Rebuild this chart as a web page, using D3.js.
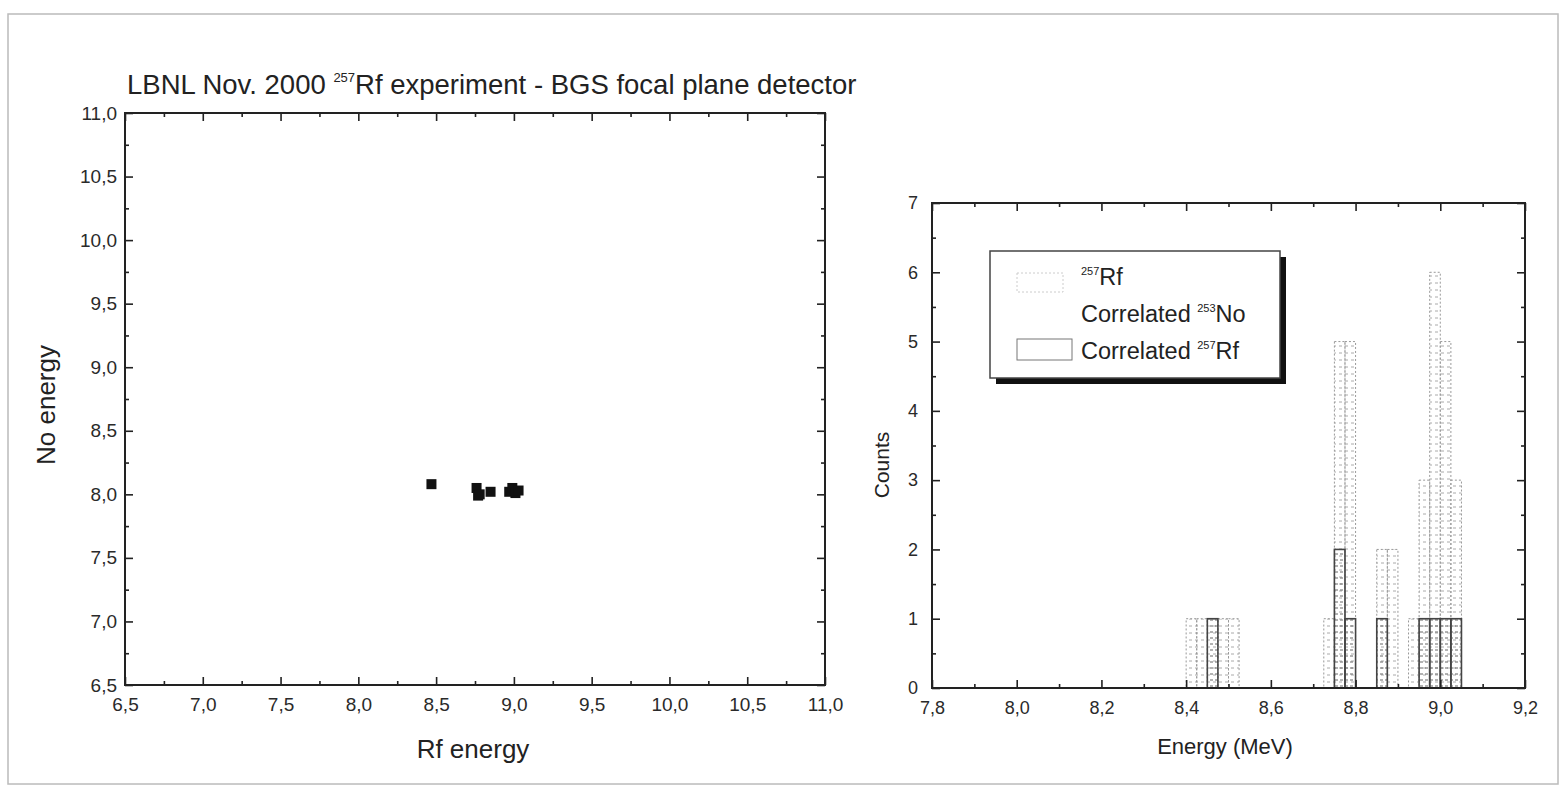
<!DOCTYPE html>
<html>
<head>
<meta charset="utf-8">
<script src="https://cdn.jsdelivr.net/npm/d3@7"></script>
<style>
  body { margin: 0; background: #fff; }
  svg { display: block; font-family: "Liberation Sans", Arial, sans-serif; }
</style>
</head>
<body>
<svg id="svg"></svg>
<script>
// scatter: Rf alpha energy vs correlated No alpha energy
const rfEnergy = [8.47, 8.76, 8.77, 8.78, 8.85, 8.97, 8.99, 9.01, 9.03];
const noEnergy = [8.08, 8.05, 7.99, 8.00, 8.02, 8.02, 8.05, 8.01, 8.03];

// histograms (left bin edge, counts), bin width 0.025 MeV
const binWidth = 0.025;
const rfBins = [8.400, 8.425, 8.450, 8.475, 8.500, 8.725, 8.750, 8.775, 8.850, 8.875, 8.925, 8.950, 8.975, 9.000, 9.025];
const rfCounts = [1, 1, 1, 1, 1, 1, 5, 5, 2, 2, 1, 3, 6, 5, 3];
const corrBins = [8.450, 8.750, 8.775, 8.850, 8.950, 8.975, 9.000, 9.025];
const corrCounts = [1, 2, 1, 1, 1, 1, 1, 1];

const scatterTicks = d3.range(6.5, 11.01, 0.5);
const scatterMinor = d3.range(6.75, 11, 0.5);
const histXTicks = [7.8, 8.0, 8.2, 8.4, 8.6, 8.8, 9.0, 9.2];
const histXMinor = [7.9, 8.1, 8.3, 8.5, 8.7, 8.9, 9.1];
const countTicks = [0, 1, 2, 3, 4, 5, 6, 7];
const countMinor = [0.5, 1.5, 2.5, 3.5, 4.5, 5.5, 6.5];

const legendLabels = [["257", "Rf", ""], ["Correlated ", "253", "No"], ["Correlated ", "257", "Rf"]];

const width = 1565, height = 789;
const ink = "#222";
const comma = d => d3.format(".1f")(d).replace(".", ",");

const svg = d3.select("#svg").attr("width", width).attr("height", height);

// outer frame of the scan
svg.append("rect").attr("x", 8).attr("y", 14).attr("width", 1550).attr("height", 770)
  .attr("fill", "none").attr("stroke", "#bbb").attr("stroke-width", 1.5);

svg.append("text").attr("x", 127).attr("y", 94).attr("font-size", 27.5).attr("fill", ink)
  .call(t => t.append("tspan").text("LBNL Nov. 2000 "))
  .call(t => t.append("tspan").attr("font-size", 13).attr("dy", -12).text("257"))
  .call(t => t.append("tspan").attr("dy", 12).text("Rf experiment - BGS focal plane detector"));

function frame(g, x, y, xt, xm, yt, ym, xfmt, yfmt, fs, padX, padY) {
  const [x0, x1] = x.range(), [y0, y1] = y.range();
  const ax = (gen, tr) => g.append("g").attr("transform", tr).call(gen)
    .call(a => a.select(".domain").remove())
    .call(a => a.selectAll("line").attr("stroke", ink).attr("stroke-width", 1.6))
    .call(a => a.selectAll("text").attr("fill", "#2a2a2a").attr("font-size", fs)
      .attr("font-family", "Liberation Sans, Arial, sans-serif"));
  ax(d3.axisBottom(x).tickValues(xt).tickSize(-8).tickPadding(padX).tickFormat(xfmt), `translate(0,${y0})`);
  ax(d3.axisBottom(x).tickValues(xm).tickSize(-4).tickFormat(""), `translate(0,${y0})`);
  ax(d3.axisTop(x).tickValues(xt).tickSize(-8).tickFormat(""), `translate(0,${y1})`);
  ax(d3.axisTop(x).tickValues(xm).tickSize(-4).tickFormat(""), `translate(0,${y1})`);
  ax(d3.axisLeft(y).tickValues(yt).tickSize(-8).tickPadding(padY).tickFormat(yfmt), `translate(${x0},0)`);
  ax(d3.axisLeft(y).tickValues(ym).tickSize(-4).tickFormat(""), `translate(${x0},0)`);
  ax(d3.axisRight(y).tickValues(yt).tickSize(-8).tickFormat(""), `translate(${x1},0)`);
  ax(d3.axisRight(y).tickValues(ym).tickSize(-4).tickFormat(""), `translate(${x1},0)`);
  g.append("rect").attr("x", x0).attr("y", y1).attr("width", x1 - x0).attr("height", y0 - y1)
    .attr("fill", "none").attr("stroke", ink).attr("stroke-width", 2);
}

// ---- left: scatter ----
const xs = d3.scaleLinear().domain([6.5, 11]).range([125, 825]);
const ys = d3.scaleLinear().domain([6.5, 11]).range([685, 113]);
const left = svg.append("g");

left.append("g").selectAll("rect")
  .data(rfEnergy.map((d, i) => [d, noEnergy[i]]))
  .join("rect")
    .attr("x", d => xs(d[0]) - 5).attr("y", d => ys(d[1]) - 5)
    .attr("width", 10).attr("height", 10).attr("fill", "#111");

frame(left, xs, ys, scatterTicks, scatterMinor, scatterTicks, scatterMinor, comma, comma, 19, 13, 8);

left.append("text").attr("x", 473).attr("y", 758).attr("text-anchor", "middle")
  .attr("font-size", 26).attr("fill", ink).text("Rf energy");
left.append("text").attr("transform", "translate(55,405) rotate(-90)").attr("text-anchor", "middle")
  .attr("font-size", 26).attr("fill", ink).text("No energy");

// ---- right: histogram ----
const xh = d3.scaleLinear().domain([7.8, 9.2]).range([932, 1525]);
const yh = d3.scaleLinear().domain([0, 7]).range([688, 203]);
const right = svg.append("g");

const defs = svg.append("defs");
defs.append("pattern").attr("id", "hatch").attr("patternUnits", "userSpaceOnUse")
  .attr("width", 6).attr("height", 7)
  .append("line").attr("x1", 1).attr("x2", 4).attr("y1", 3).attr("y2", 3)
  .attr("stroke", "#aaa").attr("stroke-width", 1);
defs.append("pattern").attr("id", "hatch2").attr("patternUnits", "userSpaceOnUse")
  .attr("width", 5).attr("height", 6)
  .append("line").attr("x1", 0).attr("x2", 3).attr("y1", 2).attr("y2", 2)
  .attr("stroke", "#666").attr("stroke-width", 1);

right.append("g").selectAll("rect")
  .data(rfBins.map((b, i) => [b, rfCounts[i]]))
  .join("rect")
    .attr("x", d => xh(d[0])).attr("width", d => xh(d[0] + binWidth) - xh(d[0]))
    .attr("y", d => yh(d[1])).attr("height", d => yh(0) - yh(d[1]))
    .attr("fill", "url(#hatch)").attr("stroke", "#999").attr("stroke-width", 1)
    .attr("stroke-dasharray", "2,2");

right.append("g").selectAll("rect")
  .data(corrBins.map((b, i) => [b, corrCounts[i]]))
  .join("rect")
    .attr("x", d => xh(d[0])).attr("width", d => xh(d[0] + binWidth) - xh(d[0]))
    .attr("y", d => yh(d[1])).attr("height", d => yh(0) - yh(d[1]))
    .attr("fill", "url(#hatch2)").attr("stroke", "#444").attr("stroke-width", 1.6);

frame(right, xh, yh, histXTicks, histXMinor, countTicks, countMinor, comma, d3.format("d"), 18, 13, 14);

right.append("text").attr("x", 1225).attr("y", 754).attr("text-anchor", "middle")
  .attr("font-size", 22).attr("fill", ink).text("Energy (MeV)");
right.append("text").attr("transform", "translate(889,465) rotate(-90)").attr("text-anchor", "middle")
  .attr("font-size", 21).attr("fill", ink).text("Counts");

// legend with drop shadow
const lg = right.append("g").attr("transform", "translate(990,251)");
lg.append("rect").attr("x", 6).attr("y", 6).attr("width", 290).attr("height", 127).attr("fill", "#111");
lg.append("rect").attr("width", 290).attr("height", 127).attr("fill", "#fff")
  .attr("stroke", "#444").attr("stroke-width", 1.5);

lg.append("rect").attr("x", 27).attr("y", 22).attr("width", 46).attr("height", 19)
  .attr("fill", "none").attr("stroke", "#ccc").attr("stroke-dasharray", "2,2");
lg.append("rect").attr("x", 27).attr("y", 88).attr("width", 55).attr("height", 21)
  .attr("fill", "none").attr("stroke", "#777").attr("stroke-width", 1);

lg.selectAll("text.lab").data(legendLabels).join("text")
  .attr("class", "lab").attr("x", 91).attr("y", (d, i) => 34 + i * 37)
  .attr("font-size", 23.5).attr("fill", ink)
  .each(function(d) {
    const t = d3.select(this);
    if (d[2] === "") {
      t.append("tspan").attr("font-size", 11).attr("dy", -10).text(d[0]);
      t.append("tspan").attr("dy", 10).text(d[1]);
    } else {
      t.append("tspan").text(d[0]);
      t.append("tspan").attr("font-size", 11).attr("dy", -10).text(d[1]);
      t.append("tspan").attr("dy", 10).text(d[2]);
    }
  });
</script>
</body>
</html>
